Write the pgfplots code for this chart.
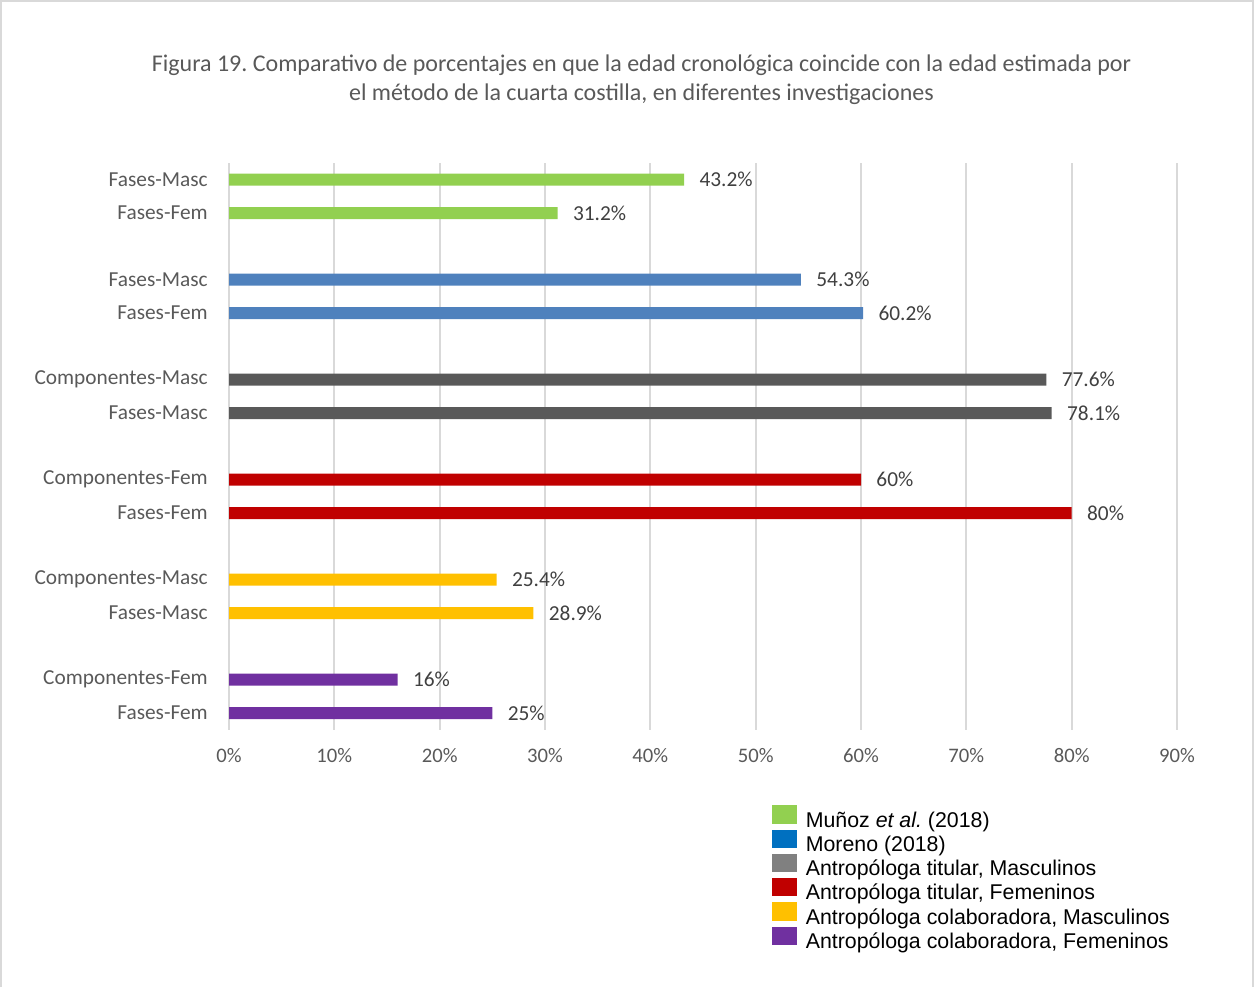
\documentclass[border=0pt]{standalone}
\usepackage{pgfplots}
\pgfplotsset{compat=1.18}
\usepackage{fontspec}
\setmainfont{Carlito}
\newfontfamily\arialfont{Liberation Sans}
\frenchspacing
\definecolor{frame}{HTML}{D9D9D9}
\definecolor{gridc}{HTML}{D9D9D9}
\definecolor{txt}{HTML}{595959}
\definecolor{lbl}{HTML}{404040}
\definecolor{bGreen}{HTML}{92D050}
\definecolor{bBlue}{HTML}{4F81BD}
\definecolor{bGray}{HTML}{595959}
\definecolor{bRed}{HTML}{C00000}
\definecolor{bYellow}{HTML}{FFC000}
\definecolor{bPurple}{HTML}{7030A0}
\definecolor{lBlue}{HTML}{0070C0}
\definecolor{lGray}{HTML}{808080}
\begin{document}
\begin{tikzpicture}
\path (0pt,0pt) rectangle (941.25pt,740.25pt);
\draw[frame, line width=1.5pt] (1.1pt,0pt) -- (1.1pt,739.2pt) -- (940.1pt,739.2pt) -- (940.1pt,0pt);
\node[align=center, text=txt, font=\fontsize{18}{21.75}\selectfont, inner sep=0pt] at (481.1pt,680.2pt)
  {Figura 19. Comparativo de porcentajes en que la edad cronológica coincide con la edad estimada por\\
   el método de la cuarta costilla, en diferentes investigaciones};
\begin{axis}[
  at={(171.75pt,192.975pt)}, anchor=south west,
  scale only axis, width=711pt, height=425pt,
  xmin=0, xmax=90, ymin=-0.5, ymax=16.5,
  xbar, bar width=9pt, bar shift=0pt,
  axis line style={draw=none}, major tick length=0pt,
  xmajorgrids, grid style={gridc, line width=1.3pt},
  xtick={0,10,...,90},
  xticklabels={0\%,10\%,20\%,30\%,40\%,50\%,60\%,70\%,80\%,90\%},
  ytick={0,1,3,4,6,7,9,10,12,13,15,16},
  yticklabels={Fases-Fem,Componentes-Fem,Fases-Masc,Componentes-Masc,Fases-Fem,Componentes-Fem,Fases-Masc,Componentes-Masc,Fases-Fem,Fases-Masc,Fases-Fem,Fases-Masc},
  ticklabel style={text=txt},
  xticklabel style={inner sep=0pt, anchor=north, yshift=-14pt, font=\fontsize{15.5}{18}\selectfont},
  yticklabel style={inner sep=0pt, anchor=east, xshift=-15.75pt, font=\fontsize{16}{18}\selectfont},
  point meta=explicit symbolic,
  nodes near coords,
  nodes near coords style={anchor=west, inner sep=0pt, xshift=11.4pt, text=lbl, font=\fontsize{16}{18}\selectfont},
  legend cell align=left,
  legend style={draw=none, fill=none, inner sep=0pt, at={(0.5728,-0.1329)}, anchor=north west,
    font=\arialfont\fontsize{16}{18}\selectfont,
    nodes={inner sep=0pt, text height=11.5pt, text depth=3.2pt},
    row sep=-1.35pt, column sep=6.75pt},
]
\addplot[forget plot, fill=bGreen, draw=none] coordinates {(43.2,16) [43.2\%] (31.2,15) [31.2\%]};
\addplot[forget plot, fill=bBlue, draw=none] coordinates {(54.3,13) [54.3\%] (60.2,12) [60.2\%]};
\addplot[forget plot, fill=bGray, draw=none] coordinates {(77.6,10) [77.6\%] (78.1,9) [78.1\%]};
\addplot[forget plot, fill=bRed, draw=none] coordinates {(60,7) [60\%] (80,6) [80\%]};
\addplot[forget plot, fill=bYellow, draw=none] coordinates {(25.4,4) [25.4\%] (28.9,3) [28.9\%]};
\addplot[forget plot, fill=bPurple, draw=none] coordinates {(16,1) [16\%] (25,0) [25\%]};
\addlegendimage{legend image code/.code={\fill[bGreen] (0pt,-1pt) rectangle (18pt,12pt);}}
\addlegendentry{Muñoz \textit{et al.} (2018)}
\addlegendimage{legend image code/.code={\fill[lBlue] (0pt,-1pt) rectangle (18pt,12pt);}}
\addlegendentry{Moreno (2018)}
\addlegendimage{legend image code/.code={\fill[lGray] (0pt,-1pt) rectangle (18pt,12pt);}}
\addlegendentry{Antropóloga titular, Masculinos}
\addlegendimage{legend image code/.code={\fill[bRed] (0pt,-1pt) rectangle (18pt,12pt);}}
\addlegendentry{Antropóloga titular, Femeninos}
\addlegendimage{legend image code/.code={\fill[bYellow] (0pt,-1pt) rectangle (18pt,12pt);}}
\addlegendentry{Antropóloga colaboradora, Masculinos}
\addlegendimage{legend image code/.code={\fill[bPurple] (0pt,-1pt) rectangle (18pt,12pt);}}
\addlegendentry{Antropóloga colaboradora, Femeninos}
\end{axis}
\end{tikzpicture}
\end{document}
